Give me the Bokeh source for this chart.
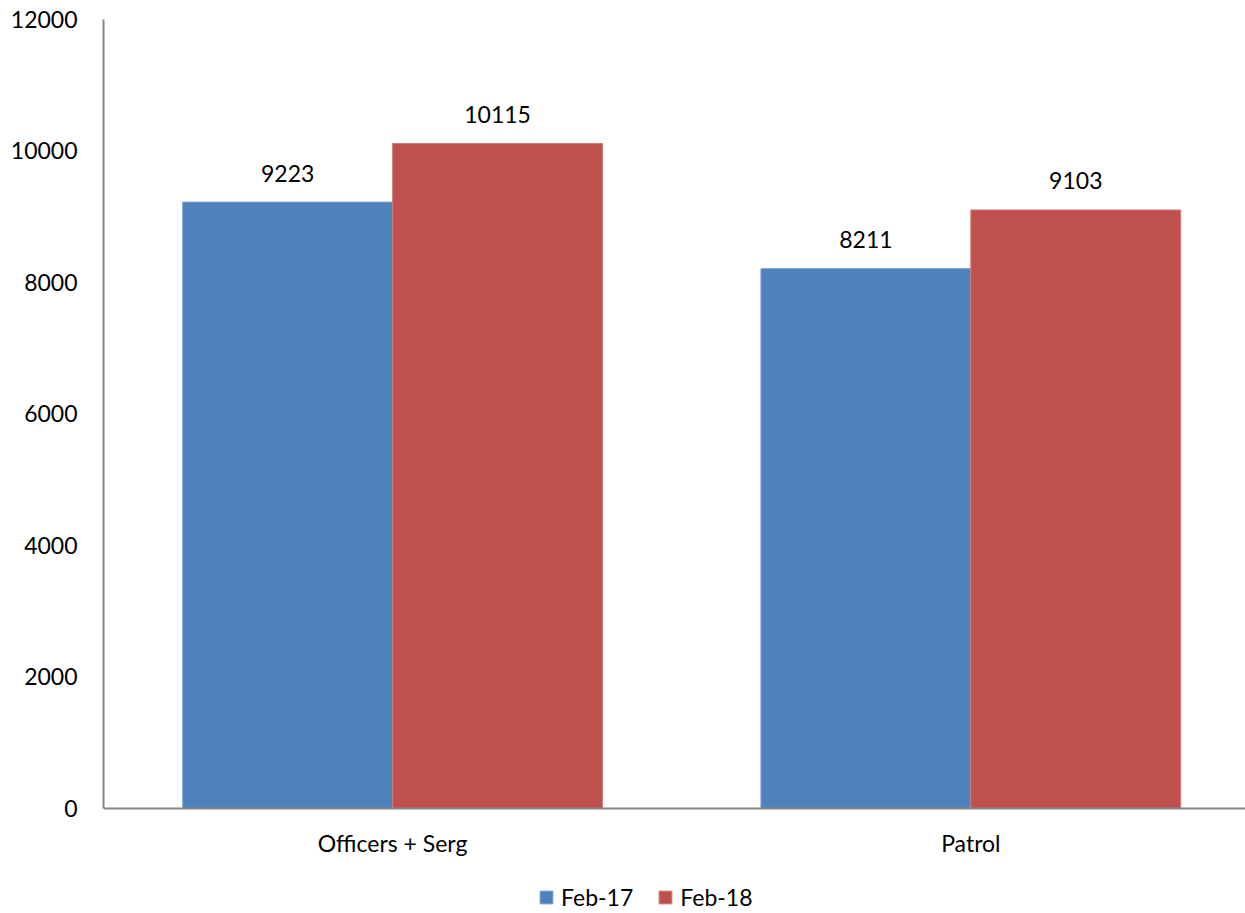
from bokeh.plotting import figure
from bokeh.models import (ColumnDataSource, Range1d, FixedTicker, Legend,
                          LegendItem, Span)
from bokeh.core.properties import value
from bokeh.embed import file_html
from bokeh.resources import INLINE

# Staffing totals by group
categories = ["Officers + Serg", "Patrol"]
feb17 = [9223, 8211]
feb18 = [10115, 9103]
series_names = ["Feb-17", "Feb-18"]
y_ticks = [0, 2000, 4000, 6000, 8000, 10000, 12000]

BLUE = "#4F81BD"
RED = "#C0504D"
AXIS = "#868686"
FONT = "Lato"
FS = "23px"

centers = [i + 0.5 for i in range(len(categories))]
bar_w = 0.363
offset = bar_w / 2

src17 = ColumnDataSource(dict(x=[c - offset for c in centers], top=feb17,
                              label=[str(v) for v in feb17]))
src18 = ColumnDataSource(dict(x=[c + offset for c in centers], top=feb18,
                              label=[str(v) for v in feb18]))
src_cat = ColumnDataSource(dict(x=centers, y=[0] * len(categories),
                                label=categories))

# The plotting area runs down to the page edge so the category labels and
# the legend can sit beneath the zero line.
p = figure(width=1245, height=913, output_backend="svg", toolbar_location=None,
           x_range=Range1d(0, 1.975), y_range=Range1d(-1597, 12000),
           x_axis_location=None,
           min_border_left=103, min_border_right=0, min_border_top=19,
           min_border_bottom=0, outline_line_color=None,
           background_fill_color="white", border_fill_color="white")

r17 = p.vbar(x="x", top="top", bottom=0, width=bar_w, source=src17,
             fill_color=BLUE, line_color="#7A9FCF", line_width=1)
r18 = p.vbar(x="x", top="top", bottom=0, width=bar_w, source=src18,
             fill_color=RED, line_color="#CF7B79", line_width=1)

# value labels above the bars
for src in (src17, src18):
    p.text(x="x", y="top", text="label", source=src, text_align="center",
           text_baseline="middle", y_offset=-29, text_font=value(FONT),
           text_font_size=FS, text_color="black")

# category axis: baseline and labels
p.add_layout(Span(location=0, dimension="width", line_color=AXIS,
                  line_width=2))
p.text(x="x", y="y", text="label", source=src_cat, text_align="center",
       text_baseline="middle", y_offset=35, text_font=value(FONT),
       text_font_size=FS, text_color="black")

p.xgrid.visible = False
p.ygrid.visible = False

p.yaxis.ticker = FixedTicker(ticks=y_ticks)
p.yaxis.bounds = (0, 12000)
p.yaxis.axis_line_color = AXIS
p.yaxis.axis_line_width = 2
p.yaxis.major_tick_line_color = None
p.yaxis.minor_tick_line_color = None
p.yaxis.major_label_text_font = FONT
p.yaxis.major_label_text_font_size = FS
p.yaxis.major_label_text_color = "black"
p.yaxis.major_label_standoff = 20

legend = Legend(items=[LegendItem(label=series_names[0], renderers=[r17]),
                       LegendItem(label=series_names[1], renderers=[r18])],
                location=(435, 2), orientation="horizontal",
                glyph_width=16, glyph_height=16, label_standoff=7, spacing=24,
                padding=0, margin=0, border_line_alpha=0,
                background_fill_alpha=0, label_text_font=FONT,
                label_text_font_size=FS, label_text_color="black")
p.add_layout(legend, "center")

open("out.html", "w").write(file_html(p, INLINE))
